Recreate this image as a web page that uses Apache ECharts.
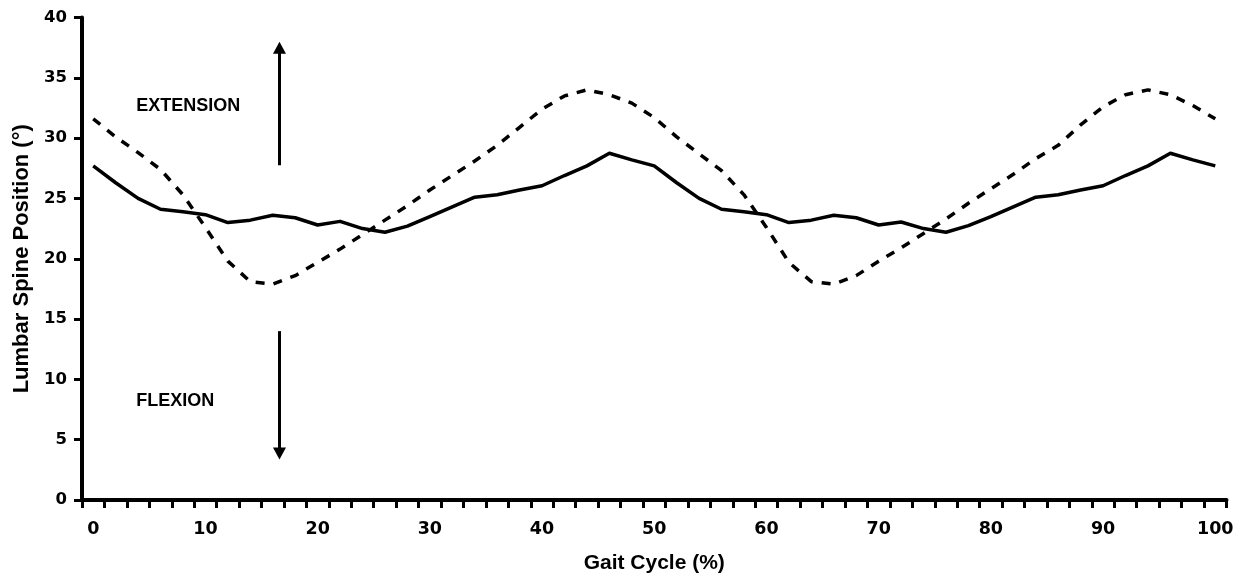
<!DOCTYPE html>
<html>
<head>
<meta charset="utf-8">
<script src="https://cdn.jsdelivr.net/npm/echarts@6/dist/echarts.min.js"></script>
<style>
html,body{margin:0;padding:0;background:#fff;}
#chart{width:1239px;height:579px;}
</style>
</head>
<body>
<div id="chart"></div>
<script>
// Gait cycle categories (%)
var gaitCycle = [0,2,4,6,8,10,12,14,16,18,20,22,24,26,28,30,32,34,36,38,40,42,44,46,48,50,
  52,54,56,58,60,62,64,66,68,70,72,74,76,78,80,82,84,86,88,90,92,94,96,98,100];
// Solid line
var solidSeries = [27.7,26.3,25.0,24.1,23.9,23.65,23.0,23.2,23.6,23.4,22.8,23.1,22.5,22.2,22.7,23.5,24.3,25.1,25.3,25.7,26.05,26.9,27.7,28.75,28.2,27.7,
  26.3,25.0,24.1,23.9,23.65,23.0,23.2,23.6,23.4,22.8,23.05,22.5,22.2,22.75,23.5,24.3,25.1,25.3,25.7,26.05,26.9,27.7,28.75,28.2,27.7];
// Dashed line
var dashedSeries = [31.6,30.1,28.8,27.4,25.3,22.6,19.8,18.1,17.9,18.6,19.7,20.8,22.0,23.2,24.4,25.7,26.9,28.1,29.4,30.9,32.4,33.5,34.0,33.6,32.9,31.7,
  30.1,28.7,27.3,25.3,22.6,19.7,18.1,17.9,18.6,19.8,20.9,22.1,23.3,24.6,25.8,27.0,28.3,29.4,31.1,32.6,33.6,34.0,33.6,32.7,31.6];
// Annotations (x in %, y in degrees)
var annotationTexts = [[3.84, 32.7, 'EXTENSION'], [3.84, 8.23, 'FLEXION']];
var arrowUp = [[16.6, 27.75], [16.6, 37.5]];
var arrowDown = [[16.6, 14.0], [16.6, 3.85]];

var chart = echarts.init(document.getElementById('chart'), null, {renderer: 'canvas'});
var titleFont = '"Liberation Sans", Arial, sans-serif';
var tickFont = '"DejaVu Sans", sans-serif';

chart.setOption({
  animation: false,
  backgroundColor: '#ffffff',
  grid: {left: 82, right: 12.5, top: 17.5, bottom: 76.5, containLabel: false},
  xAxis: [{
    type: 'category',
    data: gaitCycle,
    boundaryGap: true,
    name: 'Gait Cycle (%)',
    nameLocation: 'middle',
    nameGap: 53,
    nameTextStyle: {fontFamily: titleFont, fontWeight: 'bold', fontSize: 21, color: '#000'},
    axisLine: {show: true, onZero: false, lineStyle: {color: '#000', width: 4}},
    axisTick: {show: true, interval: 0, length: 8, lineStyle: {color: '#000', width: 3}},
    axisLabel: {interval: 4, margin: 20, fontFamily: tickFont, fontWeight: 'bold', fontSize: 17.5, color: '#000'},
    splitLine: {show: false}
  }, {
    type: 'value',
    min: -1,
    max: 101,
    show: false
  }],
  yAxis: {
    type: 'value',
    min: 0,
    max: 40,
    interval: 5,
    name: 'Lumbar Spine Position (°)',
    nameLocation: 'middle',
    nameGap: 49,
    nameRotate: 90,
    nameTextStyle: {fontFamily: titleFont, fontWeight: 'bold', fontSize: 22, color: '#000'},
    axisLine: {show: true, onZero: false, lineStyle: {color: '#000', width: 4}},
    axisTick: {show: true, length: 8, lineStyle: {color: '#000', width: 3}},
    axisLabel: {margin: 15, fontFamily: tickFont, fontWeight: 'bold', fontSize: 16.5, color: '#000'},
    splitLine: {show: false}
  },
  series: [{
    name: 'dashed',
    type: 'line',
    data: dashedSeries,
    xAxisIndex: 0,
    showSymbol: false,
    symbol: 'none',
    lineStyle: {color: '#000', width: 3.5, type: [9, 9], cap: 'butt'},
    z: 3
  }, {
    name: 'solid',
    type: 'line',
    data: solidSeries,
    xAxisIndex: 0,
    showSymbol: false,
    symbol: 'none',
    lineStyle: {color: '#000', width: 3.5, join: 'round'},
    z: 4
  }, {
    name: 'annotations',
    type: 'scatter',
    xAxisIndex: 1,
    data: annotationTexts,
    symbolSize: 0,
    silent: true,
    itemStyle: {opacity: 1, color: '#000'},
    label: {
      show: true,
      position: 'right',
      distance: 0,
      opacity: 1,
      formatter: function (p) { return p.value[2]; },
      fontFamily: titleFont, fontWeight: 'bold', fontSize: 18, color: '#000'
    },
    markLine: {
      silent: true,
      symbol: ['none', 'triangle'],
      symbolSize: [13, 12],
      label: {show: false},
      lineStyle: {color: '#000', width: 3, type: 'solid', opacity: 1},
      emphasis: {disabled: true},
      data: [
        [{coord: arrowUp[0]}, {coord: arrowUp[1]}],
        [{coord: arrowDown[0]}, {coord: arrowDown[1]}]
      ]
    }
  }]
});
</script>
</body>
</html>
